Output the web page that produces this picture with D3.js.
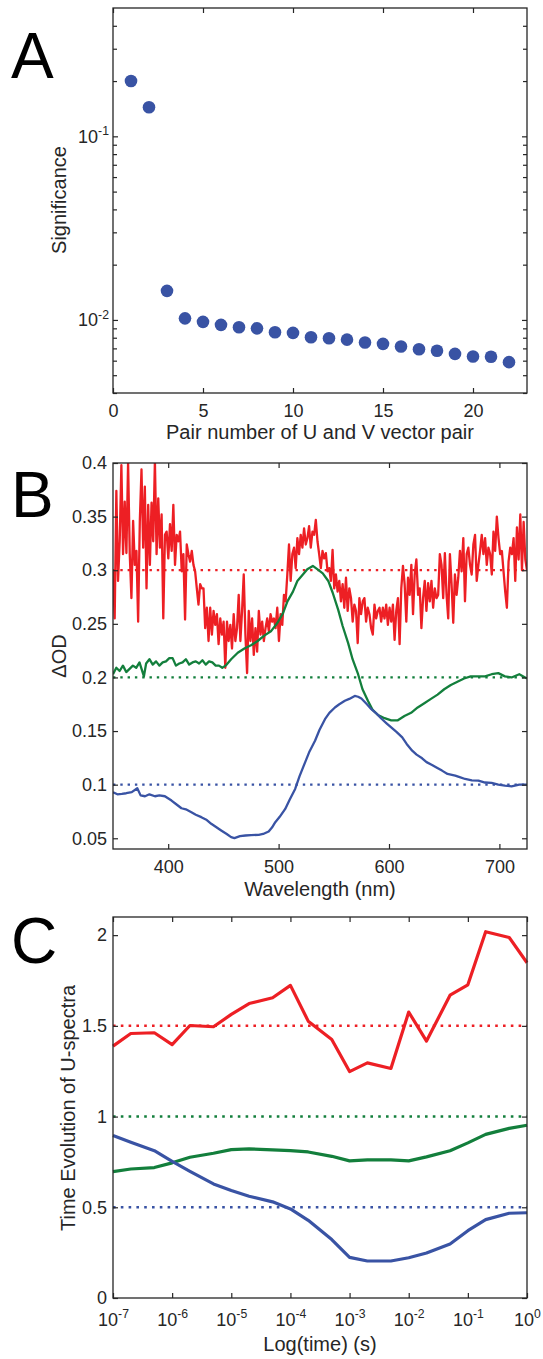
<!DOCTYPE html>
<html>
<head>
<meta charset="utf-8">
<script src="https://cdn.jsdelivr.net/npm/d3@7"></script>
<style>
body { margin: 0; background: #fff; }
svg { display: block; font-family: "Liberation Sans", Arial, Helvetica, sans-serif; }
</style>
</head>
<body>
<svg id="fig" width="543" height="1359"></svg>
<script>
// ---- panel A : significance of each U/V pair ----
var pairNum = d3.range(1, 23);
var significance = [0.200, 0.144, 0.0144, 0.0102, 0.00976, 0.0094, 0.00913, 0.0090, 0.00857, 0.0085,
  0.00805, 0.00795, 0.00781, 0.00753, 0.00741, 0.00717, 0.00693, 0.00679, 0.00653, 0.00632, 0.0063, 0.00589];
var xTicksA = [0, 5, 10, 15, 20];
var yTicksA = [0.01, 0.1];

// ---- panel B : spectra (offset by 0.1 each) ----
var redOD = [0.299,0.255,0.374,0.290,0.327,0.398,0.315,0.364,0.316,0.400,0.315,0.274,0.346,0.305,0.318,0.252,0.346,0.394,
  0.321,0.378,0.283,0.361,0.305,0.363,0.327,0.402,0.315,0.367,0.321,0.352,0.255,0.333,0.336,0.311,0.343,0.318,0.361,0.305,
  0.333,0.327,0.336,0.299,0.315,0.254,0.324,0.315,0.308,0.318,0.305,0.299,0.283,0.268,0.287,0.283,
  0.283,0.246,0.265,0.234,0.265,0.240,0.262,0.249,0.259,0.231,0.255,0.240,0.252,0.209,0.252,0.234,0.249,0.227,0.259,0.234,
  0.246,0.277,0.234,0.262,0.296,0.240,0.204,0.262,0.234,0.255,0.221,0.246,0.224,0.262,0.240,0.252,0.234,0.246,0.255,0.243,
  0.259,0.252,0.255,0.246,0.265,0.234,0.259,0.249,0.277,0.271,0.296,0.324,0.290,0.315,0.321,0.302,0.330,0.315,0.333,0.321,
  0.339,0.324,0.330,0.341,0.321,0.336,0.333,0.347,0.327,0.315,0.302,0.318,0.311,0.316,0.299,0.302,0.290,0.319,0.283,0.296,
  0.280,0.290,0.271,0.287,0.265,0.293,0.262,0.283,0.274,0.252,0.268,0.262,0.232,0.274,0.259,0.271,0.274,0.252,0.265,0.259,
  0.246,0.240,0.268,0.255,0.262,0.265,0.252,0.265,0.255,0.268,0.249,0.265,0.252,0.268,0.235,0.262,0.274,0.231,0.283,0.304,
  0.287,0.252,0.293,0.277,0.305,0.259,0.296,0.310,0.277,0.283,0.246,0.274,0.290,0.262,0.288,0.271,0.290,0.265,0.283,0.274,
  0.277,0.315,0.305,0.274,0.316,0.277,0.255,0.315,0.287,0.251,0.296,0.277,0.293,0.318,0.299,0.330,0.271,0.315,0.321,0.305,
  0.296,0.324,0.333,0.290,0.305,0.318,0.333,0.315,0.330,0.305,0.321,0.315,0.296,0.336,0.318,0.350,0.330,0.315,0.318,0.299,
  0.280,0.265,0.308,0.321,0.315,
  0.330,0.290,0.340,0.310,0.352,0.300,0.345,0.310,0.300];
var redWl = redOD.map(function(d, i) { return 350 + i * 375 / (redOD.length - 1); });

var greenWl = [350,353,356,359,362,365,368,371,374,378,380,383,386,389,392,395,398,401,404,407,410,413,416,419,422,425,428,431,
  434,437,440,443,446,449,452,457,463,469,475,481,487,493,499,504,508,513,517,522,526,531,535,540,545,549,554,558,563,567,572,
  576,581,585,590,596,602,608,614,620,626,632,638,644,650,656,662,668,674,681,687,693,699,705,711,718,725];
var greenOD = [0.203,0.209,0.206,0.211,0.205,0.208,0.211,0.209,0.214,0.201,0.213,0.217,0.212,0.215,0.211,0.214,0.215,0.218,0.218,
  0.211,0.213,0.214,0.217,0.212,0.214,0.215,0.213,0.216,0.212,0.215,0.214,0.211,0.211,0.209,0.211,0.217,0.223,0.227,0.230,0.234,
  0.239,0.243,0.251,0.260,0.271,0.280,0.290,0.296,0.301,0.304,0.301,0.297,0.290,0.279,0.263,0.248,0.232,0.217,0.203,0.189,0.178,
  0.170,0.165,0.162,0.160,0.160,0.164,0.167,0.172,0.176,0.180,0.184,0.189,0.193,0.196,0.199,0.201,0.201,0.201,0.203,0.204,0.201,
  0.200,0.203,0.199];

var blueWl = [350,354,358,362,367,372,375,379,383,388,392,397,403,407,412,416,421,425,430,435,439,444,448,453,457,460,465,470,
  475,482,486,491,494,497,501,506,510,515,519,524,528,533,537,542,546,551,555,560,564,569,572,575,580,584,589,593,598,602,607,
  612,616,621,625,630,634,639,643,648,653,660,664,669,675,681,687,693,699,705,711,718,725];
var blueOD = [0.093,0.091,0.0914,0.092,0.093,0.0967,0.090,0.0892,0.091,0.0892,0.090,0.0892,0.0852,0.082,0.078,0.077,0.0743,0.072,
  0.0697,0.067,0.0635,0.060,0.0573,0.054,0.0511,0.0502,0.052,0.0526,0.053,0.0532,0.054,0.0563,0.060,0.065,0.070,0.0774,0.086,
  0.096,0.108,0.1208,0.131,0.141,0.151,0.1611,0.167,0.172,0.175,0.1782,0.180,0.1828,0.182,0.1803,0.175,0.1704,0.166,0.1617,
  0.157,0.1534,0.149,0.1441,0.138,0.1317,0.128,0.1246,0.121,0.1184,0.116,0.1131,0.110,0.1084,0.107,0.1053,0.104,0.1038,0.102,
  0.1016,0.100,0.0991,0.0985,0.100,0.100];

var baseB = [0.3, 0.2, 0.1];
var xTicksB = [400, 500, 600, 700];
var yTicksB = [0.05, 0.1, 0.15, 0.2, 0.25, 0.3, 0.35, 0.4];

// ---- panel C : time evolution of U spectra ----
var times = [1e-7, 2e-7, 5e-7, 1e-6, 2e-6, 5e-6, 1e-5, 2e-5, 5e-5, 1e-4, 2e-4, 5e-4,
  1e-3, 2e-3, 5e-3, 1e-2, 2e-2, 5e-2, 1e-1, 2e-1, 5e-1, 1];
var redC = [1.388, 1.458, 1.462, 1.397, 1.502, 1.495, 1.563, 1.623, 1.655, 1.723, 1.526, 1.425,
  1.248, 1.296, 1.265, 1.576, 1.416, 1.669, 1.726, 2.019, 1.987, 1.848];
var greenC = [0.697, 0.711, 0.719, 0.745, 0.776, 0.798, 0.818, 0.822, 0.816, 0.812, 0.805, 0.781,
  0.756, 0.761, 0.761, 0.756, 0.778, 0.812, 0.855, 0.902, 0.935, 0.952];
var blueC = [0.895, 0.858, 0.812, 0.753, 0.698, 0.629, 0.592, 0.561, 0.530, 0.491, 0.428, 0.322,
  0.224, 0.204, 0.204, 0.222, 0.248, 0.298, 0.371, 0.432, 0.467, 0.470];
var baseC = [1.5, 1.0, 0.5];
var xTicksC = [1e-7, 1e-6, 1e-5, 1e-4, 1e-3, 1e-2, 1e-1, 1];
var yTicksC = [0, 0.5, 1, 1.5, 2];

var svg = d3.select("#fig");
var L = 113, R = 527;
var ink = "#262626";
var cRed = "#ed1f24", cGreen = "#137f3c", cBlue = "#3953a4";
var colors = [cRed, cGreen, cBlue];

function supLabels(sel) {
  sel.selectAll(".tick text").each(function(d) {
    var t = d3.select(this);
    t.text(null);
    t.append("tspan").text("10");
    t.append("tspan").attr("dy", "-0.6em").attr("font-size", "0.68em")
      .text(String(Math.round(Math.log10(d))).replace("\u2212", "-"));
  });
}

function drawAxes(x, y, top, bottom, o) {
  var gb = svg.append("g").attr("transform", "translate(0," + bottom + ")")
    .call(d3.axisBottom(x).tickValues(o.xt).tickSize(-5).tickPadding(o.xpad).tickFormat(o.xf));
  var gt = svg.append("g").attr("transform", "translate(0," + top + ")")
    .call(d3.axisTop(x).tickValues(o.xt).tickSize(-5).tickFormat(""));
  var gl = svg.append("g").attr("transform", "translate(" + L + ",0)")
    .call(d3.axisLeft(y).tickValues(o.yt).tickSize(-5).tickPadding(o.ypad).tickFormat(o.yf));
  var gr = svg.append("g").attr("transform", "translate(" + R + ",0)")
    .call(d3.axisRight(y).tickValues(o.yt).tickSize(-5).tickFormat(""));
  if (o.minor) {
    svg.append("g").attr("transform", "translate(" + L + ",0)")
      .call(d3.axisLeft(y).tickValues(o.minor).tickSize(-4).tickFormat(""));
    svg.append("g").attr("transform", "translate(" + R + ",0)")
      .call(d3.axisRight(y).tickValues(o.minor).tickSize(-4).tickFormat(""));
  }
  if (o.xsup) supLabels(gb);
  if (o.ysup) supLabels(gl);
  svg.selectAll(".domain").remove();
  svg.selectAll(".tick line").attr("stroke", ink).attr("stroke-width", 1.2);
  svg.selectAll(".tick text").attr("fill", ink).attr("font-size", 18).attr("font-family", null);
  svg.append("rect").attr("x", L).attr("y", top).attr("width", R - L).attr("height", bottom - top)
    .attr("fill", "none").attr("stroke", ink).attr("stroke-width", 1.3);
}

function letter(s, yb) {
  svg.append("text").attr("x", 11).attr("y", yb).attr("font-size", 64).attr("fill", "#000").text(s);
}
function xTitle(s, yb) {
  svg.append("text").attr("x", (L + R) / 2).attr("y", yb).attr("text-anchor", "middle")
    .attr("font-size", 20).attr("fill", ink).text(s);
}
function yTitle(s, xb, yc) {
  svg.append("text").attr("transform", "translate(" + xb + "," + yc + ") rotate(-90)")
    .attr("text-anchor", "middle").attr("font-size", 20).attr("fill", ink).text(s);
}

// ================= A =================
var topA = 8, botA = 393;
var xA = d3.scaleLinear().domain([0, 23]).range([L, R]);
var yA = d3.scaleLog().domain([0.004, 0.5]).range([botA, topA]);
var minorA = [0.004, 0.005, 0.006, 0.007, 0.008, 0.009, 0.02, 0.03, 0.04, 0.05, 0.06, 0.07, 0.08, 0.09, 0.2, 0.3, 0.4];

svg.append("g").selectAll("circle").data(significance).enter().append("circle")
  .attr("cx", function(d, i) { return xA(pairNum[i]); })
  .attr("cy", function(d) { return yA(d); })
  .attr("r", 6.3).attr("fill", cBlue);

drawAxes(xA, yA, topA, botA, { xt: xTicksA, yt: yTicksA, xpad: 11, ypad: 4, xf: d3.format("d"), yf: null, ysup: true, minor: minorA });
letter("A", 78);
xTitle("Pair number of U and V vector pair", 439);
yTitle("Significance", 66, 200);

// ================= B =================
var topB = 463, botB = 849;
var xB = d3.scaleLinear().domain([350, 725]).range([L, R]);
var yB = d3.scaleLinear().domain([0.04, 0.4]).range([botB, topB]);

svg.append("clipPath").attr("id", "clipB").append("rect")
  .attr("x", L).attr("y", topB).attr("width", R - L).attr("height", botB - topB);

var gB = svg.append("g").attr("clip-path", "url(#clipB)");
gB.selectAll("line.base").data(baseB).enter().append("line").attr("class", "base")
  .attr("x1", L).attr("x2", R)
  .attr("y1", function(d) { return yB(d); }).attr("y2", function(d) { return yB(d); })
  .attr("stroke", function(d, i) { return colors[i]; })
  .attr("stroke-width", 2.2).attr("stroke-dasharray", "2.4,4.9");

var lineB = d3.line().x(function(d) { return xB(d[0]); }).y(function(d) { return yB(d[1]); });
var spectra = [
  { wl: redWl, od: redOD, c: cRed },
  { wl: greenWl, od: greenOD, c: cGreen },
  { wl: blueWl, od: blueOD, c: cBlue }
];
spectra.forEach(function(s) {
  gB.append("path").datum(s.wl.map(function(w, i) { return [w, s.od[i]]; }))
    .attr("d", lineB).attr("fill", "none").attr("stroke", s.c)
    .attr("stroke-width", 2.3).attr("stroke-linejoin", "round");
});

drawAxes(xB, yB, topB, botB, { xt: xTicksB, yt: yTicksB, xpad: 11, ypad: 6, xf: d3.format("d"), yf: function(d) { return String(d); } });
letter("B", 517);
xTitle("Wavelength (nm)", 896);
yTitle("\u0394OD", 66, 656);

// ================= C =================
var topC = 917, botC = 1298;
var xC = d3.scaleLog().domain([1e-7, 1]).range([L, R]);
var yC = d3.scaleLinear().domain([0, 2.1]).range([botC, topC]);

svg.append("g").selectAll("line").data(baseC).enter().append("line")
  .attr("x1", L).attr("x2", R)
  .attr("y1", function(d) { return yC(d); }).attr("y2", function(d) { return yC(d); })
  .attr("stroke", function(d, i) { return colors[i]; })
  .attr("stroke-width", 2.5).attr("stroke-dasharray", "2.6,5.2");

var lineC = d3.line().x(function(d) { return xC(d[0]); }).y(function(d) { return yC(d[1]); });
[[redC, cRed], [greenC, cGreen], [blueC, cBlue]].forEach(function(s) {
  svg.append("path").datum(times.map(function(t, i) { return [t, s[0][i]]; }))
    .attr("d", lineC).attr("fill", "none").attr("stroke", s[1])
    .attr("stroke-width", 3.2).attr("stroke-linejoin", "round");
});

drawAxes(xC, yC, topC, botC, { xt: xTicksC, yt: yTicksC, xpad: 15, ypad: 6, xf: null, yf: function(d) { return String(d); }, xsup: true });
letter("C", 963);
xTitle("Log(time) (s)", 1351);
yTitle("Time Evolution of U-spectra", 75, 1108);
</script>
</body>
</html>
